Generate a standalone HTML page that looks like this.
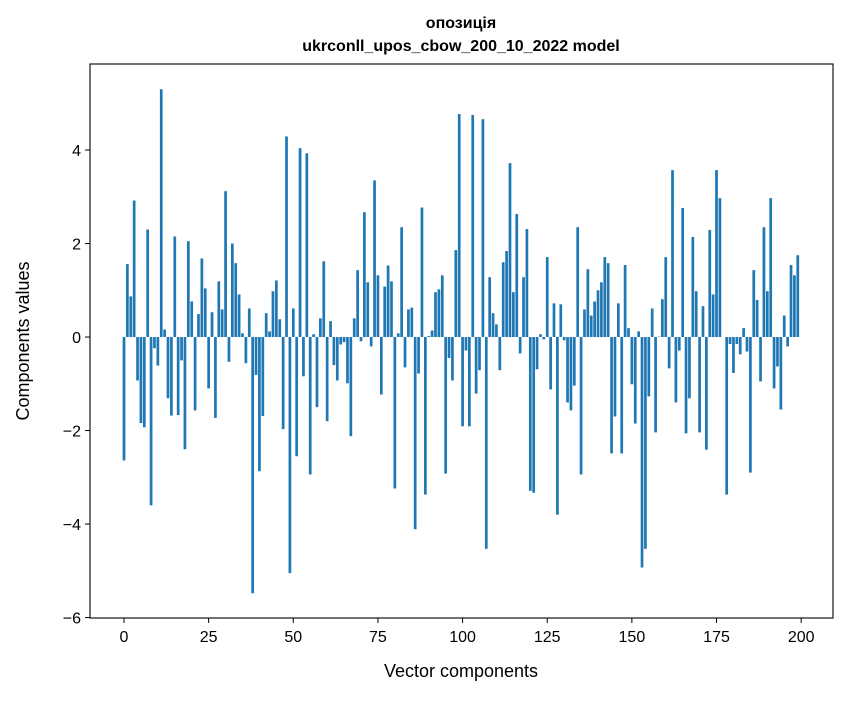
<!DOCTYPE html>
<html><head><meta charset="utf-8"><style>
body{margin:0;background:#fff;}
svg text{font-family:"Liberation Sans","DejaVu Sans",sans-serif;fill:#000;}
</style></head><body>
<svg id="chart" width="847" height="696" xmlns="http://www.w3.org/2000/svg">
<rect width="847" height="696" fill="#fff"/>
<text x="461" y="28" text-anchor="middle" font-size="16" font-weight="bold">опозиція</text>
<text x="461" y="51" text-anchor="middle" font-size="16" font-weight="bold">ukrconll_upos_cbow_200_10_2022 model</text>
<g id="bars"></g>
<g id="axes"></g>
<text x="461" y="677" text-anchor="middle" font-size="18">Vector components</text>
<text transform="translate(29,341) rotate(-90)" text-anchor="middle" font-size="18">Components values</text>
</svg>
<script>
const values = [-2.64,1.56,0.87,2.92,-0.93,-1.84,-1.93,2.30,-3.6,-0.24,-0.61,5.3,0.16,-1.31,-1.68,2.15,-1.67,-0.5,-2.4,2.05,0.76,-1.57,0.49,1.68,1.04,
-1.1,0.53,-1.73,1.19,0.59,3.12,-0.53,2.0,1.58,0.91,0.08,-0.56,0.61,-5.48,-0.81,-2.87,-1.69,0.51,0.12,0.98,1.21,0.38,-1.97,4.29,-5.05,
0.61,-2.55,4.04,-0.84,3.93,-2.94,0.06,-1.5,0.4,1.62,-1.8,0.34,-0.6,-0.93,-0.16,-0.11,-0.99,-2.12,0.4,1.43,-0.09,2.67,1.17,-0.2,3.35,
1.32,-1.23,1.08,1.53,1.19,-3.24,0.08,2.35,-0.65,0.59,0.63,-4.11,-0.78,2.77,-3.37,0.02,0.14,0.96,1.02,1.32,-2.92,-0.45,-0.93,1.86,4.77,
-1.91,-0.29,-1.91,4.75,-1.21,-0.71,4.66,-4.53,1.28,0.51,0.27,-0.71,1.6,1.84,3.72,0.96,2.63,-0.35,1.28,2.31,-3.29,-3.33,-0.69,0.06,-0.05,
1.71,-1.12,0.72,-3.8,0.7,-0.07,-1.4,-1.57,-1.04,2.35,-2.94,0.59,1.45,0.46,0.76,1.0,1.17,1.71,1.58,-2.49,-1.7,0.72,-2.49,1.54,0.19,
-1.01,-1.85,0.12,-4.93,-4.53,-1.27,0.61,-2.04,0.01,0.81,1.71,-0.67,3.57,-1.4,-0.29,2.76,-2.06,-1.31,2.14,0.98,-2.04,0.66,-2.41,2.29,0.91,
3.57,2.97,0.0,-3.37,-0.15,-0.77,-0.15,-0.37,0.19,-0.31,-2.9,1.43,0.79,-0.95,2.35,0.98,2.97,-1.1,-0.63,-1.55,0.46,-0.2,1.54,1.32,1.75];
const xTicks = [0,25,50,75,100,125,150,175,200];
const yTicks = [-6,-4,-2,0,2,4];
const yTickLabels = ["−6","−4","−2","0","2","4"];

const L=90,R=833,T=64,B=618;
const xMin=-10.04,xMax=209.4,yMin=-6.01,yMax=5.84;
const xs=v=>L+(v-xMin)/(xMax-xMin)*(R-L);
const ys=v=>B-(v-yMin)/(yMax-yMin)*(B-T);
const NS="http://www.w3.org/2000/svg";
const bars=document.getElementById('bars');
values.forEach((v,i)=>{
  const r=document.createElementNS(NS,'rect');
  const x0=xs(i-0.4),x1=xs(i+0.4);
  const y0=ys(Math.max(v,0)),y1=ys(Math.min(v,0));
  r.setAttribute('x',x0);r.setAttribute('width',x1-x0);
  r.setAttribute('y',y0);r.setAttribute('height',Math.max(y1-y0,0));
  r.setAttribute('fill','#1f77b4');
  
  
  bars.appendChild(r);
});
const ax=document.getElementById('axes');
const frame=document.createElementNS(NS,'rect');
frame.setAttribute('x',L);frame.setAttribute('y',T);frame.setAttribute('width',R-L);frame.setAttribute('height',B-T);
frame.setAttribute('fill','none');frame.setAttribute('stroke','#000');frame.setAttribute('stroke-width','1.1');


ax.appendChild(frame);
xTicks.forEach(t=>{
  const x=xs(t);
  const l=document.createElementNS(NS,'line');
  l.setAttribute('x1',x);l.setAttribute('x2',x);l.setAttribute('y1',B);l.setAttribute('y2',B+5);l.setAttribute('stroke','#000');
  
  
  ax.appendChild(l);
  const tx=document.createElementNS(NS,'text');
  tx.setAttribute('x',x);tx.setAttribute('y',B+24);tx.setAttribute('text-anchor','middle');tx.setAttribute('font-size','16');
  tx.textContent=t;
  
  
  ax.appendChild(tx);
});
yTicks.forEach((t,i)=>{
  const y=ys(t);
  const l=document.createElementNS(NS,'line');
  l.setAttribute('x1',L-5);l.setAttribute('x2',L);l.setAttribute('y1',y);l.setAttribute('y2',y);l.setAttribute('stroke','#000');
  
  
  ax.appendChild(l);
  const tx=document.createElementNS(NS,'text');
  tx.setAttribute('x',L-9);tx.setAttribute('y',y+6);tx.setAttribute('text-anchor','end');tx.setAttribute('font-size','16');
  tx.textContent=yTickLabels[i];
  
  
  ax.appendChild(tx);
});
</script>
</body></html>
